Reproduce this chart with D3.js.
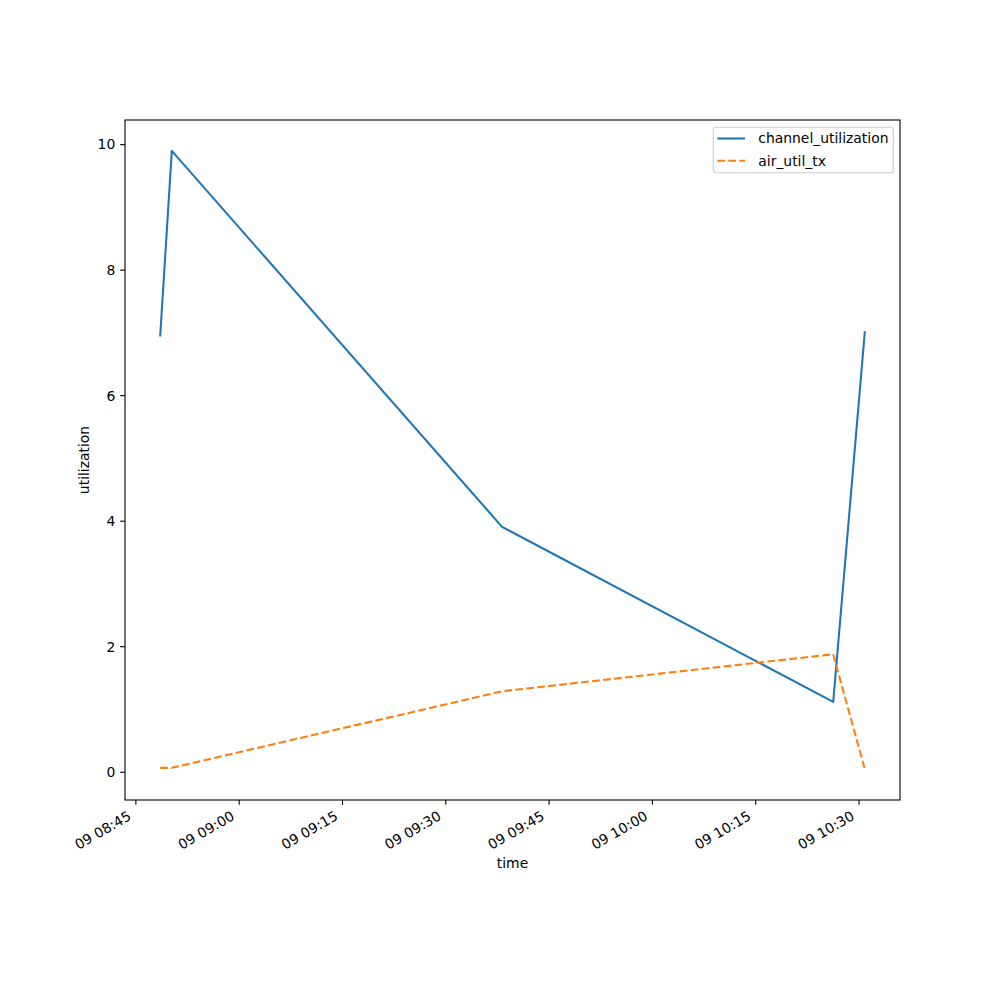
<!DOCTYPE html>
<html>
<head>
<meta charset="utf-8">
<script src="https://cdn.jsdelivr.net/npm/d3@7"></script>
<style>
  html, body { margin: 0; padding: 0; background: #fff; }
  text { font-family: "DejaVu Sans", sans-serif; }
</style>
</head>
<body>
<svg id="chart" width="1000" height="1000"></svg>
<script>
// ---- data ----
const times = ["2024-01-09T08:48:32Z", "2024-01-09T08:50:13Z", "2024-01-09T09:38:10Z", "2024-01-09T10:26:15Z", "2024-01-09T10:30:50Z"];
const channelUtilization = [6.96, 9.90, 3.91, 1.12, 7.01];
const airUtilTx = [0.07, 0.07, 1.29, 1.88, 0.05];
const yTicks = [0, 2, 4, 6, 8, 10];
const seriesNames = ["channel_utilization", "air_util_tx"];
const seriesColors = ["#1f77b4", "#ff7f0e"];

const dates = times.map(t => new Date(t));

const svg = d3.select("#chart");
const L = 125, R = 900, T = 120, B = 800;
const fs = 13.9;

// matplotlib-like 5% margins
const xExt = d3.extent(dates);
const xPad = (xExt[1] - xExt[0]) * 0.05;
const x = d3.scaleUtc()
  .domain([new Date(+xExt[0] - xPad), new Date(+xExt[1] + xPad)])
  .range([L, R]);

const allY = channelUtilization.concat(airUtilTx);
const yExt = d3.extent(allY);
const yPad = (yExt[1] - yExt[0]) * 0.05;
const y = d3.scaleLinear()
  .domain([yExt[0] - yPad, yExt[1] + yPad])
  .range([B, T]);

// lines
const seriesData = [channelUtilization, airUtilTx];
const line = d3.line().x(d => x(d[0])).y(d => y(d[1]));
seriesData.forEach((vals, i) => {
  svg.append("path")
    .datum(dates.map((d, j) => [d, vals[j]]))
    .attr("d", line)
    .attr("fill", "none")
    .attr("stroke", seriesColors[i])
    .attr("stroke-width", 2.08)
    .attr("stroke-linejoin", "round")
    .attr("stroke-linecap", i === 1 ? "butt" : "square")
    .attr("stroke-dasharray", i === 1 ? "7.7,3.33" : null);
});

// axes frame
svg.append("rect")
  .attr("x", L).attr("y", T).attr("width", R - L).attr("height", B - T)
  .attr("fill", "none").attr("stroke", "#000").attr("stroke-width", 1.1);

// x ticks
const xTicks = x.ticks(d3.utcMinute.every(15));
const fmt = d3.utcFormat("%d %H:%M");
const xg = svg.append("g");
xTicks.forEach(t => {
  const px = x(t);
  xg.append("line").attr("x1", px).attr("x2", px).attr("y1", B).attr("y2", B + 4.86)
    .attr("stroke", "#000").attr("stroke-width", 1.1);
  xg.append("text")
    .attr("transform", `translate(${px - 9},${B + 9.7}) rotate(-30)`)
    .attr("text-anchor", "end")
    .attr("dy", "0.76em")
    .attr("font-size", fs)
    .attr("fill", "#000")
    .text(fmt(t));
});

// y ticks
const yg = svg.append("g");
yTicks.forEach(v => {
  const py = y(v);
  yg.append("line").attr("x1", L - 4.86).attr("x2", L).attr("y1", py).attr("y2", py)
    .attr("stroke", "#000").attr("stroke-width", 1.1);
  yg.append("text")
    .attr("x", L - 9.7).attr("y", py)
    .attr("dy", "0.35em")
    .attr("text-anchor", "end")
    .attr("font-size", fs)
    .attr("fill", "#000")
    .text(d3.format("d")(v));
});

// axis labels
svg.append("text")
  .attr("x", (L + R) / 2).attr("y", 868)
  .attr("text-anchor", "middle").attr("font-size", fs).text("time");
svg.append("text")
  .attr("transform", `translate(89,${(T + B) / 2}) rotate(-90)`)
  .attr("text-anchor", "middle").attr("font-size", fs).text("utilization");

// legend
const lg = svg.append("g");
lg.append("rect")
  .attr("x", 713.3).attr("y", 127.3).attr("width", 180).attr("height", 45.4)
  .attr("rx", 3).attr("ry", 3)
  .attr("fill", "#fff").attr("fill-opacity", 0.8)
  .attr("stroke", "#cccccc").attr("stroke-width", 1.1);
seriesNames.forEach((name, i) => {
  const ly = 138.5 + i * 22.2;
  lg.append("line")
    .attr("x1", 717.3).attr("x2", 745.1).attr("y1", ly).attr("y2", ly)
    .attr("stroke", seriesColors[i]).attr("stroke-width", 2.08)
    .attr("stroke-dasharray", i === 1 ? "7.7,3.33" : null);
  lg.append("text")
    .attr("x", 758.3).attr("y", ly).attr("dy", "0.35em")
    .attr("font-size", fs).attr("fill", "#000").text(name);
});
</script>
</body>
</html>
